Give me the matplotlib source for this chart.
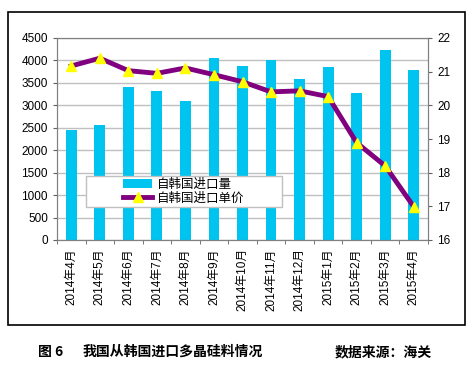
import matplotlib
matplotlib.use('Agg')
import numpy as np
from matplotlib import pyplot as plt
from matplotlib.patches import Rectangle

plt.rcParams['font.family'] = ['Liberation Sans', 'Noto Sans CJK SC', 'DejaVu Sans']

months = ['2014年4月', '2014年5月', '2014年6月', '2014年7月', '2014年8月', '2014年9月',
          '2014年10月', '2014年11月', '2014年12月', '2015年1月', '2015年2月', '2015年3月',
          '2015年4月']
volume = [2450, 2560, 3415, 3325, 3090, 4045, 3875, 4010, 3585, 3855, 3280, 4225, 3785]
price = [21.17, 21.40, 21.03, 20.95, 21.11, 20.91, 20.70, 20.40, 20.43, 20.26, 18.89, 18.20, 16.99]

fig = plt.figure(figsize=(4.72, 3.73), dpi=100)

# outer frame
fig.patches.append(Rectangle((8 / 472, 1 - 325 / 373), 457 / 472, 313 / 373,
                             transform=fig.transFigure, fill=False, ec='black', lw=1.2))

ax = fig.add_axes([57 / 472, 1 - 240 / 373, 371 / 472, 202 / 373])
x = np.arange(len(months))
bars = ax.bar(x, volume, width=0.38, color='#00C4F0', label='自韩国进口量', zorder=2)
ax.set_ylim(0, 4500)
ax.set_yticks(np.arange(0, 4501, 500))
ax.set_xlim(-0.5, len(months) - 0.5)
ax.set_xticks(x)
ax.set_xticklabels(months, rotation=90, fontsize=8.5)
ax.set_xticks(np.arange(-0.5, len(months), 1), minor=True)
ax.tick_params(axis='x', which='major', length=0, pad=6)
ax.tick_params(axis='x', which='minor', length=3, direction='out', color='#606060')
ax.tick_params(axis='y', labelsize=8.5, length=3, color='#606060')
ax.grid(axis='y', color='#C0C0C0', lw=1, zorder=0)
for s in ax.spines.values():
    s.set_color('#808080')

ax2 = ax.twinx()
line, = ax2.plot(x, price, color='#800080', lw=3.5, marker='^', ms=7.5,
                 mfc='#FFFF00', mec='#FFFF00', label='自韩国进口单价', zorder=3)
ax2.set_ylim(16, 22)
ax2.set_yticks(np.arange(16, 23, 1))
ax2.tick_params(axis='y', labelsize=8.5, length=3, color='#606060')
for s in ax2.spines.values():
    s.set_color('#808080')

# legend box, content centred inside
ax2.add_patch(Rectangle((0.078, 0.163), 0.528, 0.153, transform=ax2.transAxes,
                        fc='white', ec='#C0C0C0', lw=1, zorder=4))
leg = ax2.legend([bars, line], ['自韩国进口量', '自韩国进口单价'], loc='center',
                 bbox_to_anchor=(0.342, 0.24), fontsize=9, frameon=False,
                 handlelength=2.3, handletextpad=0.4,
                 borderpad=0, labelspacing=0.15, borderaxespad=0)
leg.set_zorder(5)

fig.text(38 / 472, 1 - 352 / 373, '图 6', fontsize=10, fontweight='bold', va='center',
         family=['Noto Sans CJK SC'])
fig.text(83 / 472, 1 - 352 / 373, '我国从韩国进口多晶硅料情况', fontsize=10, fontweight='bold',
         va='center', family=['Noto Sans CJK SC'])
fig.text(335 / 472, 1 - 352 / 373, '数据来源：海关', fontsize=10, fontweight='bold',
         va='center', family=['Noto Sans CJK SC'])

fig.savefig('out.png', dpi=100)
